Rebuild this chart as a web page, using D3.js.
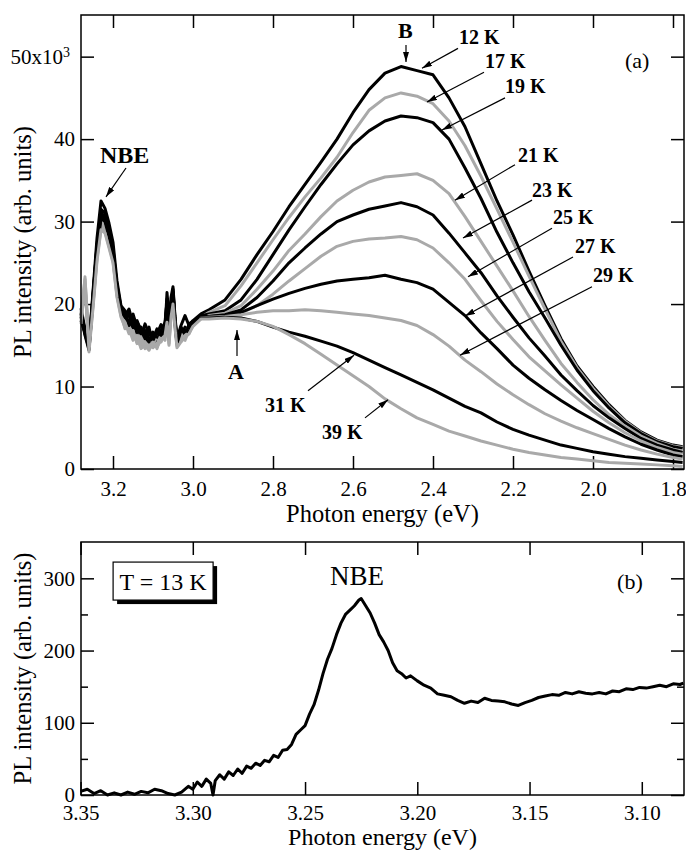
<!DOCTYPE html>
<html>
<head>
<meta charset="utf-8">
<script src="https://cdn.jsdelivr.net/npm/d3@7"></script>
<style>
  body { margin: 0; background: #ffffff; }
  svg text { font-family: "Liberation Serif", "Times New Roman", serif; }
</style>
</head>
<body>
<div id="canvas"></div>
<script>
"use strict";

/**** DATA - PANEL (a): PL spectra at several temperatures ****/
let energyA = [3.28, 3.27, 3.26, 3.25, 3.24, 3.23, 3.22, 3.21, 3.20, 3.19, 3.18, 3.17, 3.16, 3.15, 3.14, 3.13,
    3.12, 3.11, 3.10, 3.09, 3.08, 3.07, 3.065, 3.06, 3.055, 3.05, 3.045, 3.04, 3.03, 3.02, 3.01, 3.00, 2.98,
    2.96, 2.92, 2.88, 2.84, 2.80, 2.76, 2.72, 2.68, 2.64, 2.60, 2.56, 2.52, 2.48, 2.44, 2.40, 2.36, 2.32,
    2.28, 2.24, 2.20, 2.16, 2.12, 2.08, 2.04, 2.00, 1.96, 1.92, 1.88, 1.84, 1.80, 1.776];

let temps = ["12 K", "17 K", "19 K", "21 K", "23 K", "25 K", "27 K", "29 K", "31 K", "39 K"];

// intensities in units of 10^3
let pl12K = [19.5, 17.0, 15.2, 21.5, 28.0, 32.5, 31.6, 29.8, 27.5, 22.8, 19.8, 19.2, 18.0, 18.8, 17.2, 16.0,
    17.6, 16.4, 15.8, 17.0, 16.6, 17.8, 20.2, 17.0, 20.8, 22.1, 18.5, 15.8, 17.4, 18.6, 17.4, 18.0, 18.8,
    19.3, 20.5, 23.0, 26.0, 28.8, 31.8, 34.5, 37.2, 40.0, 43.2, 46.0, 48.0, 48.8, 48.3, 47.8, 45.0, 41.5,
    37.0, 32.5, 28.4, 24.0, 19.8, 15.8, 12.5, 10.0, 7.8, 5.9, 4.5, 3.5, 2.9, 2.7];
let pl17K = [19.0, 23.0, 15.6, 20.5, 26.5, 30.0, 29.6, 28.0, 26.0, 21.8, 19.2, 17.6, 18.4, 16.5, 16.8, 15.2,
    15.8, 14.8, 15.6, 14.6, 16.2, 16.0, 18.8, 15.8, 19.5, 21.0, 17.8, 15.2, 16.2, 17.0, 16.4, 17.6, 18.4,
    19.0, 19.8, 22.2, 25.0, 27.8, 30.5, 33.0, 35.3, 37.8, 40.8, 43.5, 45.0, 45.6, 45.2, 44.3, 42.2, 39.2,
    35.5, 31.5, 27.5, 23.4, 19.4, 15.5, 12.3, 9.8, 7.6, 5.8, 4.4, 3.4, 2.8, 2.6];
let pl19K = [18.0, 16.5, 14.8, 21.0, 27.2, 31.5, 31.0, 29.0, 26.8, 22.0, 19.5, 18.6, 19.4, 17.6, 18.0, 16.8,
    16.2, 17.2, 15.0, 16.4, 17.5, 16.8, 21.4, 18.4, 20.2, 21.5, 18.0, 15.4, 16.2, 17.2, 16.8, 17.8, 18.6,
    18.8, 19.2, 20.5, 23.0, 26.0, 29.0, 31.8, 34.5, 37.0, 39.3, 41.0, 42.2, 42.8, 42.6, 42.0, 40.0, 36.5,
    32.8, 28.7, 25.0, 21.5, 18.3, 15.0, 12.0, 9.5, 7.4, 5.6, 4.3, 3.3, 2.7, 2.5];
let pl21K = [18.6, 22.0, 15.0, 20.2, 26.0, 29.6, 29.2, 27.5, 25.6, 21.5, 19.0, 18.2, 16.9, 17.4, 15.4, 16.2,
    14.8, 15.6, 15.0, 15.8, 16.0, 17.0, 18.0, 16.2, 19.0, 20.5, 17.5, 15.0, 15.8, 16.6, 17.2, 17.4, 18.2,
    18.6, 18.9, 19.8, 21.8, 24.0, 26.5, 28.5, 30.6, 32.5, 33.8, 34.8, 35.4, 35.6, 35.8, 35.0, 33.4, 30.6,
    27.6, 24.6, 21.6, 18.5, 15.6, 12.8, 10.5, 8.4, 6.6, 5.2, 4.0, 3.1, 2.4, 2.2];
let pl23K = [19.0, 16.8, 15.0, 21.2, 27.0, 31.0, 30.6, 28.8, 26.5, 22.3, 19.6, 18.0, 18.8, 17.0, 17.8, 16.8,
    15.8, 16.6, 16.4, 15.4, 16.8, 17.6, 19.6, 17.2, 20.0, 21.8, 18.2, 15.6, 17.0, 16.0, 17.6, 17.9, 18.5,
    18.5, 18.7, 19.3, 20.8, 22.8, 25.0, 26.8, 28.5, 30.0, 30.8, 31.5, 31.9, 32.3, 31.8, 30.8, 28.6, 26.2,
    23.8, 21.0, 18.4, 15.9, 13.7, 11.4, 9.5, 7.7, 6.2, 4.9, 3.7, 2.9, 2.3, 2.0];
let pl25K = [18.2, 22.5, 14.8, 20.0, 25.8, 29.4, 29.0, 27.2, 25.4, 21.2, 18.8, 17.0, 17.6, 16.0, 15.8, 14.8,
    15.4, 14.6, 15.2, 16.0, 15.4, 16.4, 18.6, 15.6, 18.8, 20.6, 17.6, 15.1, 16.4, 15.6, 16.8, 17.5, 18.3,
    18.4, 18.5, 18.9, 19.8, 21.2, 22.8, 24.3, 25.8, 27.0, 27.6, 27.9, 28.0, 28.2, 27.8, 26.8, 25.0, 23.0,
    20.4, 17.9, 15.7, 13.6, 11.9, 10.2, 8.6, 7.0, 5.6, 4.4, 3.4, 2.6, 2.0, 1.8];
let pl27K = [18.8, 16.4, 14.6, 20.8, 26.8, 30.8, 30.2, 28.5, 26.2, 22.0, 19.3, 18.8, 17.4, 18.2, 16.4, 17.2,
    16.0, 15.4, 16.6, 16.0, 15.8, 17.2, 20.6, 16.8, 19.8, 21.4, 17.9, 15.3, 17.2, 16.4, 17.0, 17.8, 18.4,
    18.5, 18.6, 19.0, 19.8, 20.6, 21.3, 21.9, 22.4, 22.8, 23.0, 23.2, 23.5, 23.0, 22.6, 21.8, 20.2, 18.6,
    16.5, 14.6, 12.6, 11.0, 9.6, 8.3, 7.1, 6.0, 4.9, 3.9, 3.0, 2.3, 1.7, 1.5];
let pl29K = [17.8, 22.2, 14.5, 19.8, 25.5, 29.2, 28.8, 27.0, 25.2, 21.0, 18.6, 17.8, 16.4, 16.8, 15.2, 15.6,
    14.6, 15.0, 14.7, 15.2, 16.2, 15.6, 18.2, 15.2, 18.6, 20.3, 17.3, 14.9, 15.6, 16.2, 16.6, 17.4, 18.3,
    18.4, 18.5, 18.7, 19.0, 19.2, 19.2, 19.3, 19.2, 19.0, 18.8, 18.6, 18.3, 18.0, 17.4, 16.3, 14.9, 13.2,
    11.8, 10.3, 9.0, 7.8, 6.7, 5.8, 5.0, 4.3, 3.6, 2.9, 2.3, 1.8, 1.4, 1.2];
let pl31K = [18.5, 16.2, 14.4, 20.6, 26.5, 30.4, 30.0, 28.2, 26.0, 21.8, 19.1, 18.4, 18.0, 17.2, 17.0, 16.4,
    16.8, 15.8, 15.6, 16.6, 16.2, 16.8, 19.2, 16.4, 19.6, 21.2, 17.7, 15.2, 16.8, 16.8, 16.6, 17.7, 18.3,
    18.3, 18.4, 18.3, 17.9, 17.2, 16.6, 16.1, 15.5, 14.9, 14.1, 13.2, 12.3, 11.4, 10.5, 9.6, 8.6, 7.6,
    6.8, 5.7, 4.8, 4.1, 3.5, 2.9, 2.5, 2.1, 1.8, 1.5, 1.3, 1.1, 0.9, 0.8];
let pl39K = [17.6, 23.3, 14.2, 19.5, 25.2, 29.0, 28.6, 26.8, 25.0, 20.8, 18.4, 17.2, 17.0, 15.6, 16.2, 14.6,
    15.0, 14.4, 15.4, 14.8, 15.6, 16.2, 17.8, 15.0, 18.4, 20.0, 17.1, 14.7, 15.4, 16.0, 16.4, 17.3, 18.2,
    18.2, 18.3, 18.2, 17.9, 17.3, 16.3, 15.2, 13.9, 12.6, 11.3, 10.0, 8.5, 7.3, 6.2, 5.4, 4.6, 4.0,
    3.4, 2.9, 2.4, 2.0, 1.7, 1.4, 1.2, 1.0, 0.8, 0.7, 0.6, 0.5, 0.4, 0.3];

let seriesA = [pl12K, pl17K, pl19K, pl21K, pl23K, pl25K, pl27K, pl29K, pl31K, pl39K];

/**** DATA - PANEL (b): NBE region at 13 K ****/
let energyB = [3.350, 3.347, 3.344, 3.341, 3.338, 3.335, 3.332, 3.329, 3.326, 3.323, 3.320, 3.317, 3.314, 3.311,
    3.308, 3.305, 3.302, 3.300, 3.298, 3.296, 3.294, 3.292, 3.291, 3.290, 3.288, 3.286, 3.284, 3.282, 3.280,
    3.278, 3.276, 3.274, 3.272, 3.270, 3.268, 3.266, 3.264, 3.262, 3.260, 3.258, 3.256, 3.254, 3.252, 3.250,
    3.248, 3.246, 3.244, 3.242, 3.240, 3.238, 3.236, 3.234, 3.232, 3.230, 3.228, 3.226, 3.225, 3.223, 3.221,
    3.219, 3.217, 3.215, 3.213, 3.211, 3.209, 3.207, 3.205, 3.203, 3.200, 3.197, 3.194, 3.191, 3.188, 3.185,
    3.182, 3.179, 3.176, 3.173, 3.170, 3.167, 3.164, 3.161, 3.158, 3.155, 3.152, 3.149, 3.146, 3.143, 3.140,
    3.137, 3.134, 3.131, 3.128, 3.125, 3.122, 3.119, 3.116, 3.113, 3.110, 3.107, 3.104, 3.101, 3.098, 3.095,
    3.092, 3.089, 3.086, 3.083, 3.0815];
let plB = [5, 8, 2, 6, 0, 3, 0, 4, 1, 5, 3, 8, 6, 2,
    0, 4, 12, 8, 18, 12, 22, 16, 0, 20, 28, 22, 32, 27, 36,
    30, 40, 37, 44, 41, 48, 46, 55, 52, 62, 63, 70, 84, 90, 96,
    112, 125, 145, 168, 188, 203, 222, 238, 250, 256, 262, 270, 272, 262, 252,
    238, 222, 212, 200, 183, 172, 168, 162, 165, 158, 152, 148, 140, 138, 136,
    131, 127, 130, 128, 134, 131, 130, 129, 126, 124, 128, 131, 135, 137, 139,
    138, 142, 140, 143, 141, 140, 142, 140, 144, 143, 147, 146, 149, 148, 150,
    152, 150, 154, 153, 155];

/**** TICKS ****/
let ticksAx = [3.2, 3.0, 2.8, 2.6, 2.4, 2.2, 2.0, 1.8];
let ticksAy = [0, 10, 20, 30, 40, 50];
let ticksBx = [3.35, 3.30, 3.25, 3.20, 3.15, 3.10];
let ticksBy = [0, 100, 200, 300];
let minorBy = [50, 150, 250];

/**** ANNOTATIONS (data coordinates: label, arrow start, arrow tip) ****/
let notesA = [
    { label: "12 K", tx: 2.335, ty: 51.5, x1: 2.3375, y1: 51.0, x2: 2.4275, y2: 48.6 },
    { label: "17 K", tx: 2.270, ty: 48.6, x1: 2.2725, y1: 48.1, x2: 2.415, y2: 44.5 },
    { label: "19 K", tx: 2.220, ty: 45.6, x1: 2.220, y1: 45.0, x2: 2.3775, y2: 41.1 },
    { label: "21 K", tx: 2.1875, ty: 37.2, x1: 2.195, y1: 36.9, x2: 2.345, y2: 32.6 },
    { label: "23 K", tx: 2.1525, ty: 33.0, x1: 2.1525, y1: 32.6, x2: 2.325, y2: 28.0 },
    { label: "25 K", tx: 2.100, ty: 29.7, x1: 2.1025, y1: 29.2, x2: 2.3125, y2: 23.3 },
    { label: "27 K", tx: 2.045, ty: 26.2, x1: 2.050, y1: 25.7, x2: 2.320, y2: 18.55 },
    { label: "29 K", tx: 2.000, ty: 22.7, x1: 2.0025, y1: 22.1, x2: 2.3325, y2: 13.8 },
    { label: "31 K", tx: 2.820, ty: 6.9, x1: 2.7125, y1: 9.5, x2: 2.5975, y2: 13.8 },
    { label: "39 K", tx: 2.6775, ty: 3.6, x1: 2.570, y1: 6.2, x2: 2.5125, y2: 8.4 },
    { label: "A", tx: 2.9125, ty: 10.9, x1: 2.890, y1: 13.7, x2: 2.890, y2: 16.85 },
    { label: "B", tx: 2.4875, ty: 52.3, x1: 2.4675, y1: 51.4, x2: 2.4675, y2: 49.35 },
    { label: "NBE", tx: 3.2325, ty: 37.1, x1: 3.1675, y1: 36.5, x2: 3.2175, y2: 33.0 }
];

/**** LAYOUT ****/
let svgWidth = 686;
let svgHeight = 850;
let panelA = { left: 81, right: 684, top: 15, bottom: 469 };
let panelB = { left: 81, right: 684, top: 542, bottom: 795 };
let fontTick = "21px";
let fontTitle = "24.5px";

let svg = d3.select("#canvas")
    .append("svg")
    .attr("width", svgWidth)
    .attr("height", svgHeight)
    .style("display", "block");

svg.append("defs").append("marker")
    .attr("id", "arrowhead")
    .attr("viewBox", "0 0 10 6")
    .attr("refX", 10)
    .attr("refY", 3)
    .attr("markerWidth", 10)
    .attr("markerHeight", 6)
    .attr("markerUnits", "userSpaceOnUse")
    .attr("orient", "auto")
    .append("path")
    .attr("d", "M0,0L10,3L0,6Z")
    .attr("fill", "black");

/**** SCALES ****/
let xA = d3.scaleLinear().domain([3.28, 1.7725]).range([panelA.left, panelA.right]);
let yA = d3.scaleLinear().domain([0, 55.05]).range([panelA.bottom, panelA.top]);
let xB = d3.scaleLinear().domain([3.3498, 3.0812]).range([panelB.left, panelB.right]);
let yB = d3.scaleLinear().domain([0, 350.3]).range([panelB.bottom, panelB.top]);

function styleAxis(g) {
    g.select(".domain").remove();
    g.selectAll(".tick line").attr("stroke", "black").attr("stroke-width", 1.5);
    g.selectAll(".tick text")
        .attr("fill", "black")
        .style("font-size", fontTick)
        .style("font-family", "'Liberation Serif', 'Times New Roman', serif");
}

function drawAxes(p, xs, ys, xt, yt, xfmt, yfmt, pad) {
    svg.append("g")
        .attr("transform", `translate(0,${p.bottom})`)
        .call(d3.axisBottom(xs).tickValues(xt).tickSize(-13).tickPadding(pad).tickFormat(xfmt))
        .call(styleAxis);
    svg.append("g")
        .attr("transform", `translate(0,${p.top})`)
        .call(d3.axisTop(xs).tickValues(xt).tickSize(-13).tickFormat(""))
        .call(styleAxis);
    let gl = svg.append("g")
        .attr("transform", `translate(${p.left},0)`)
        .call(d3.axisLeft(ys).tickValues(yt).tickSize(-13).tickPadding(6).tickFormat(yfmt))
        .call(styleAxis);
    svg.append("g")
        .attr("transform", `translate(${p.right},0)`)
        .call(d3.axisRight(ys).tickValues(yt).tickSize(-13).tickFormat(""))
        .call(styleAxis);
    return gl;
}

/**** PANEL (a) ****/
let glA = drawAxes(panelA, xA, yA, ticksAx, ticksAy, d3.format(".1f"), function(d) {
    return d === 50 ? "50x10" : d;
}, 12);
glA.selectAll(".tick text")
    .filter(function(d) { return d === 50; })
    .attr("x", -11)
    .append("tspan")
    .attr("dy", "-0.5em")
    .style("font-size", "14px")
    .text("3");

let lineA = d3.line()
    .x(function(d, i) { return xA(energyA[i]); })
    .y(function(d) { return yA(d); });

for (let i = 0; i < seriesA.length; i++) {
    svg.append("path")
        .datum(seriesA[i])
        .attr("d", lineA)
        .attr("fill", "none")
        .attr("stroke", i % 2 === 0 ? "black" : "#a9a9a9")
        .attr("stroke-width", 3)
        .attr("stroke-linejoin", "round");
}

svg.append("rect")
    .attr("x", panelA.left)
    .attr("y", panelA.top)
    .attr("width", panelA.right - panelA.left)
    .attr("height", panelA.bottom - panelA.top)
    .attr("fill", "none")
    .attr("stroke", "black")
    .attr("stroke-width", 1.5);

for (let i = 0; i < notesA.length; i++) {
    let n = notesA[i];
    svg.append("line")
        .attr("x1", xA(n.x1)).attr("y1", yA(n.y1))
        .attr("x2", xA(n.x2)).attr("y2", yA(n.y2))
        .attr("stroke", "black")
        .attr("stroke-width", 1.2)
        .attr("marker-end", "url(#arrowhead)");
    let size = "20px";
    if (n.label === "NBE") { size = "24px"; }
    if (n.label === "A" || n.label === "B") { size = "22px"; }
    svg.append("text")
        .attr("x", xA(n.tx))
        .attr("y", yA(n.ty))
        .style("font-size", size)
        .style("font-weight", "bold")
        .text(n.label);
}

svg.append("text")
    .attr("x", xA(1.92))
    .attr("y", yA(48.6))
    .style("font-size", "22px")
    .text("(a)");

svg.append("text")
    .attr("x", (panelA.left + panelA.right) / 2)
    .attr("y", 522)
    .attr("text-anchor", "middle")
    .style("font-size", fontTitle)
    .text("Photon energy (eV)");

svg.append("text")
    .attr("transform", "rotate(-90)")
    .attr("x", -(panelA.top + panelA.bottom) / 2)
    .attr("y", 31)
    .attr("text-anchor", "middle")
    .style("font-size", fontTitle)
    .text("PL intensity (arb. units)");

/**** PANEL (b) ****/
drawAxes(panelB, xB, yB, ticksBx, ticksBy, d3.format(".2f"), function(d) { return d; }, 10);

svg.append("g")
    .attr("transform", `translate(${panelB.left},0)`)
    .call(d3.axisLeft(yB).tickValues(minorBy).tickSize(-7).tickFormat(""))
    .call(styleAxis);
svg.append("g")
    .attr("transform", `translate(${panelB.right},0)`)
    .call(d3.axisRight(yB).tickValues(minorBy).tickSize(-7).tickFormat(""))
    .call(styleAxis);

let lineB = d3.line()
    .x(function(d, i) { return xB(energyB[i]); })
    .y(function(d) { return yB(d); });

svg.append("path")
    .datum(plB)
    .attr("d", lineB)
    .attr("fill", "none")
    .attr("stroke", "black")
    .attr("stroke-width", 3)
    .attr("stroke-linejoin", "round");

svg.append("rect")
    .attr("x", panelB.left)
    .attr("y", panelB.top)
    .attr("width", panelB.right - panelB.left)
    .attr("height", panelB.bottom - panelB.top)
    .attr("fill", "none")
    .attr("stroke", "black")
    .attr("stroke-width", 1.5);

// temperature box with drop shadow
let boxX = xB(3.3355);
let boxY = yB(322.5);
svg.append("rect")
    .attr("x", boxX + 4).attr("y", boxY + 4)
    .attr("width", 100).attr("height", 38)
    .attr("fill", "black");
svg.append("rect")
    .attr("x", boxX).attr("y", boxY)
    .attr("width", 100).attr("height", 38)
    .attr("fill", "white")
    .attr("stroke", "black")
    .attr("stroke-width", 1.2);
svg.append("text")
    .attr("x", boxX + 50)
    .attr("y", boxY + 28)
    .attr("text-anchor", "middle")
    .style("font-size", "24px")
    .text("T = 13 K");

svg.append("text")
    .attr("x", xB(3.2389))
    .attr("y", yB(290.5))
    .style("font-size", "27px")
    .text("NBE");

svg.append("text")
    .attr("x", xB(3.111))
    .attr("y", yB(285))
    .style("font-size", "22px")
    .text("(b)");

svg.append("text")
    .attr("x", (panelB.left + panelB.right) / 2)
    .attr("y", 844.5)
    .attr("text-anchor", "middle")
    .style("font-size", "24px")
    .text("Photon energy (eV)");

svg.append("text")
    .attr("transform", "rotate(-90)")
    .attr("x", -(panelB.top + panelB.bottom) / 2)
    .attr("y", 31)
    .attr("text-anchor", "middle")
    .style("font-size", fontTitle)
    .text("PL intensity (arb. units)");
</script>
</body>
</html>
